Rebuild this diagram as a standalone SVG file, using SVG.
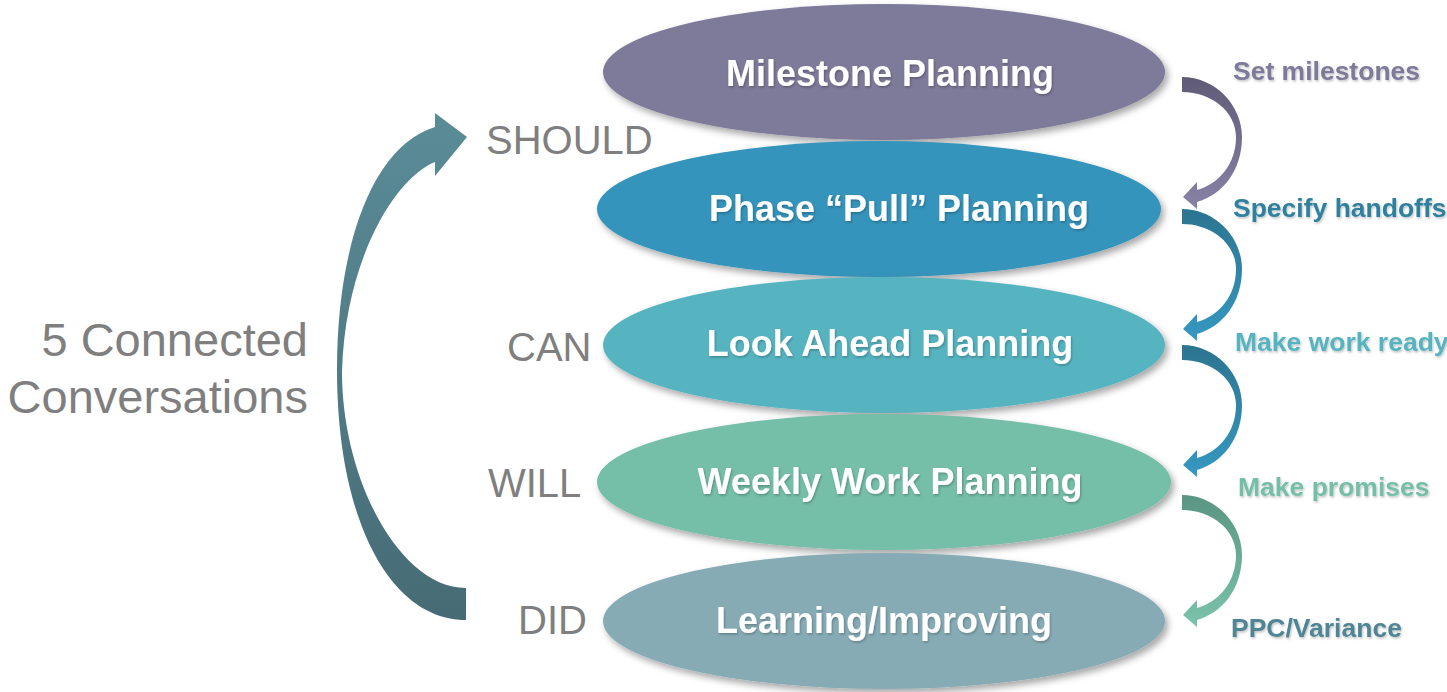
<svg xmlns="http://www.w3.org/2000/svg" width="1447" height="692" viewBox="0 0 1447 692">
  <defs>
    <filter id="shadow" x="-10%" y="-20%" width="125%" height="150%">
      <feDropShadow dx="3" dy="4" stdDeviation="3.5" flood-color="#000" flood-opacity="0.35"/>
    </filter>
    <filter id="tshadow" x="-5%" y="-20%" width="110%" height="150%">
      <feDropShadow dx="1" dy="1.5" stdDeviation="0.8" flood-color="#000" flood-opacity="0.25"/>
    </filter>
    <linearGradient id="g1" x1="0" y1="0" x2="0" y2="1">
      <stop offset="0" stop-color="#5f5b77"/>
      <stop offset="1" stop-color="#8883a6"/>
    </linearGradient>
    <linearGradient id="g2" x1="0" y1="0" x2="0" y2="1">
      <stop offset="0" stop-color="#2c7490"/>
      <stop offset="1" stop-color="#3698c0"/>
    </linearGradient>
    <linearGradient id="g4" x1="0" y1="0" x2="0" y2="1">
      <stop offset="0" stop-color="#5a9582"/>
      <stop offset="1" stop-color="#7bc3aa"/>
    </linearGradient>
    <linearGradient id="gbig" x1="0" y1="0" x2="0" y2="1">
      <stop offset="0" stop-color="#5a8c98"/>
      <stop offset="1" stop-color="#466b75"/>
    </linearGradient>
    <path id="carrow" d="M0,0 C33,0 60,28 60,60 C60,94 40,118 15,125 L15,132 L1,120 L15,105 L15,113 C36,107 54,88 54,60 C54,35 30,15 0,15 Z"/>
  </defs>
  <style>
    .node-text { font-family: "Liberation Sans", Arial, sans-serif; font-weight: bold; font-size: 36px; fill: #ffffff; text-anchor: middle; }
    .side { font-family: "Liberation Sans", Arial, sans-serif; font-size: 40px; fill: #7f7f7f; }
    .big { font-family: "Liberation Sans", Arial, sans-serif; font-size: 47px; fill: #7f7f7f; text-anchor: end; }
    .lbl { font-family: "Liberation Sans", Arial, sans-serif; font-weight: bold; font-size: 26.5px; }
  </style>

  <rect width="1447" height="692" fill="#ffffff"/>

  <g id="connectors">
    <use href="#carrow" x="1182" y="77" fill="url(#g1)"/>
    <use href="#carrow" x="1182" y="209" fill="url(#g2)"/>
    <use href="#carrow" x="1182" y="345" fill="url(#g2)"/>
    <use href="#carrow" x="1182" y="495" fill="url(#g4)"/>
    <path id="cycle-arrow" fill="url(#gbig)" d="M466,620 C390,620 337,520 337,370 C337,240 375,145 435,127 L435,113 L467,137 L435,176 L435,162 C395,178 345,260 342,372 C342,480 400,588 466,588 Z"/>
  </g>

  <g id="node-milestone">
    <ellipse cx="884" cy="72" rx="281" ry="68" fill="#7e7a99" filter="url(#shadow)"/>
    <text class="node-text" x="890" y="86" filter="url(#tshadow)">Milestone Planning</text>
  </g>
  <g id="node-phase">
    <ellipse cx="879" cy="209" rx="282" ry="68" fill="#3494bb" filter="url(#shadow)"/>
    <text class="node-text" x="899" y="221" filter="url(#tshadow)">Phase “Pull” Planning</text>
  </g>
  <g id="node-lookahead">
    <ellipse cx="884" cy="345" rx="281" ry="68" fill="#57b4c0" filter="url(#shadow)"/>
    <text class="node-text" x="890" y="356" filter="url(#tshadow)">Look Ahead Planning</text>
  </g>
  <g id="node-weekly">
    <ellipse cx="884" cy="482" rx="287" ry="68" fill="#75bea7" filter="url(#shadow)"/>
    <text class="node-text" x="890" y="494" filter="url(#tshadow)">Weekly Work Planning</text>
  </g>
  <g id="node-learning">
    <ellipse cx="884" cy="621" rx="281" ry="68" fill="#86abb5" filter="url(#shadow)"/>
    <text class="node-text" x="884" y="633" filter="url(#tshadow)">Learning/Improving</text>
  </g>

  <g id="side-labels">
    <text class="side" x="486" y="154">SHOULD</text>
    <text class="side" x="507" y="361">CAN</text>
    <text class="side" x="488" y="497">WILL</text>
    <text class="side" x="518" y="634">DID</text>
  </g>

  <g id="title">
    <text class="big" x="308" y="356">5 Connected</text>
    <text class="big" x="308" y="413">Conversations</text>
  </g>

  <g id="step-labels" filter="url(#tshadow)">
    <text class="lbl" x="1233" y="80" fill="#7e7a99">Set milestones</text>
    <text class="lbl" x="1233" y="217" fill="#2e809e">Specify handoffs</text>
    <text class="lbl" x="1235" y="351" fill="#57b4c0">Make work ready</text>
    <text class="lbl" x="1238" y="496" fill="#75bea7">Make promises</text>
    <text class="lbl" x="1231" y="637" fill="#4f8594">PPC/Variance</text>
  </g>
</svg>
